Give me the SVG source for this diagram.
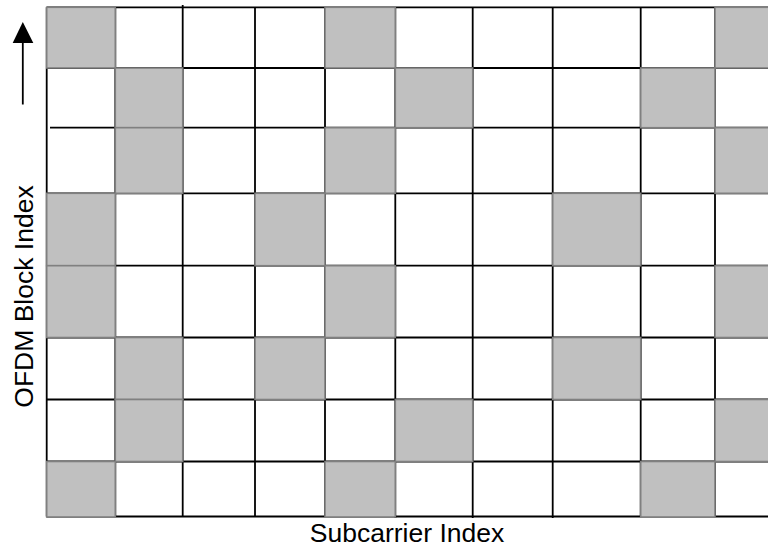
<svg xmlns="http://www.w3.org/2000/svg" width="768" height="548" viewBox="0 0 768 548">
<style>
.g{stroke:#000;stroke-width:1.8;fill:none}
.c{fill:#c0c0c0;stroke:#808080;stroke-width:1.6}
.t{font-family:"Liberation Sans",Arial,sans-serif;font-size:26.5px;fill:#000}
</style>
<rect width="768" height="548" fill="#fff"/>
<g id="grid">
<path class="g" d="M46.7 7.3H768M46.7 68H768M50 127.7H768M46.7 193.3H768M46.7 265.7H768M46.7 337.5H768M46.7 399.5H768M46.7 461.5H768M46.7 516.5H768"/>
<path class="g" d="M46.7 7.3V516.5M115.3 7.3V516.5M182.7 5V516.5M255 7.3V516.5M325 7.3V516.5M395.3 7.3V518M472.7 7.3V518M552.7 7.3V518M640.7 7.3V516.5M715 7.3V516.5"/>
</g>
<g id="cells">
<rect class="c" x="46.7" y="7.3" width="68.6" height="60.7"/>
<rect class="c" x="325" y="7.3" width="70.3" height="60.7"/>
<rect class="c" x="715" y="7.3" width="55" height="60.7"/>
<rect class="c" x="115.3" y="68" width="67.4" height="59.7"/>
<rect class="c" x="395.3" y="68" width="77.4" height="59.7"/>
<rect class="c" x="640.7" y="68" width="74.3" height="59.7"/>
<rect class="c" x="115.3" y="127.7" width="67.4" height="65.6"/>
<rect class="c" x="325" y="127.7" width="70.3" height="65.6"/>
<rect class="c" x="715" y="127.7" width="55" height="65.6"/>
<rect class="c" x="46.7" y="193.3" width="68.6" height="72.4"/>
<rect class="c" x="255" y="193.3" width="70" height="72.4"/>
<rect class="c" x="552.7" y="193.3" width="88" height="72.4"/>
<rect class="c" x="46.7" y="265.7" width="68.6" height="71.8"/>
<rect class="c" x="325" y="265.7" width="70.3" height="71.8"/>
<rect class="c" x="715" y="265.7" width="55" height="71.8"/>
<rect class="c" x="115.3" y="337.5" width="67.4" height="62"/>
<rect class="c" x="255" y="337.5" width="70" height="62"/>
<rect class="c" x="552.7" y="337.5" width="88" height="62"/>
<rect class="c" x="115.3" y="399.5" width="67.4" height="62"/>
<rect class="c" x="395.3" y="399.5" width="77.4" height="62"/>
<rect class="c" x="715" y="399.5" width="55" height="62"/>
<rect class="c" x="46.7" y="461.5" width="68.6" height="55.5"/>
<rect class="c" x="325" y="461.5" width="70.3" height="55.5"/>
<rect class="c" x="640.7" y="461.5" width="74.3" height="55.5"/>
</g>
<g id="axis-arrow">
<line x1="22.8" y1="42" x2="22.8" y2="104.5" stroke="#000" stroke-width="1.8"/>
<polygon points="22.8,22 12.7,43 33.3,43" fill="#000"/>
</g>
<g id="labels">
<text class="t" x="407" y="542" text-anchor="middle">Subcarrier Index</text>
<text class="t" x="0" y="0" text-anchor="middle" transform="translate(33 296.5) rotate(-90)">OFDM Block Index</text>
</g>
</svg>
